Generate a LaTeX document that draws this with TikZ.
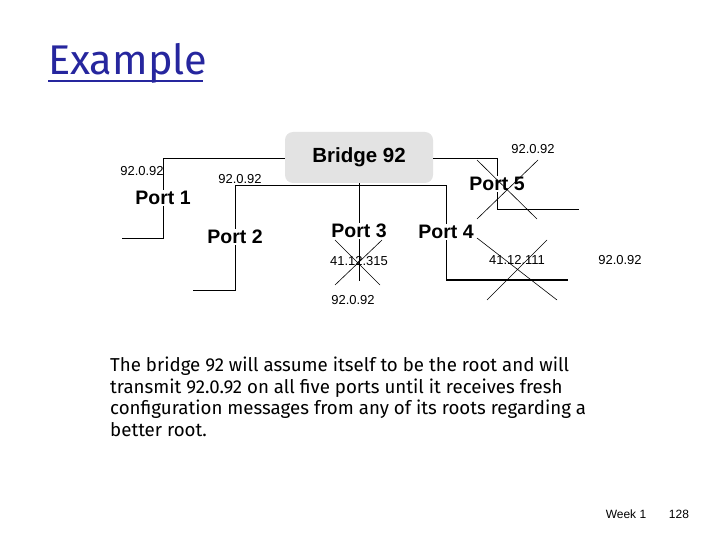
\documentclass[tikz,border=0pt]{standalone}
\usepackage{fontspec}
\setmainfont{Liberation Sans}
\newfontfamily\comicfont{Fira Sans}
\begin{document}
\begin{tikzpicture}[x=1pt,y=-1pt,
  wire/.style={line width=0.9pt,black},
  cross/.style={line width=0.6pt,black},
  portlbl/.style={font=\fontsize{19.5}{19.5}\selectfont\bfseries,fill=white,inner sep=1pt},
  addr/.style={font=\fontsize{13}{13}\selectfont,inner sep=0pt},
  bridgebox/.style={fill=black!11,rounded corners=8pt,minimum width=148pt,minimum height=51pt,font=\fontsize{20.5}{20.5}\selectfont\bfseries}]
\useasboundingbox (0,0) rectangle (720,540);
% title
\node[anchor=base west,inner sep=0pt,font=\comicfont\fontsize{41.5}{41.5}\selectfont,text=blue!55!black!85!white] (title) at (48,75) {Example};
\draw[line width=2pt,blue!55!black!85!white] (48,81) -- (203,81);
% bridge
\node[bridgebox] (br) at (359,157.5) {Bridge 92};
% coordinates
\coordinate (p1a) at (163,158);
\coordinate (p1b) at (163,238);
\coordinate (p1c) at (122,238);
\coordinate (p2a) at (235,185);
\coordinate (p2b) at (235,290);
\coordinate (p2c) at (193,290);
\coordinate (p4a) at (446,185);
\coordinate (p4b) at (446,280);
\coordinate (p4c) at (568,280);
\coordinate (p3b) at (359,281);
\coordinate (p5a) at (497,158);
\coordinate (p5b) at (497,209);
\coordinate (p5c) at (579,209);
% wires
\draw[wire] (br.west |- p1a) -- (p1a) -- (p1b) -- (p1c);
\draw[wire] (p2c) -- (p2b) -- (p2a) -- (p4a) -- (p4b);
\draw[line width=2pt] (p4b) -- (p4c);
\draw[wire] (br.south) -- (p3b);
\draw[wire] (br.east |- p5a) -- (p5a) -- (p5b) -- (p5c);
% labels
\node[portlbl] (l1) at (163,198) {Port 1};
\node[portlbl] (l2) at (235,237) {Port 2};
\node[portlbl] (l3) at (359,231) {Port 3};
\node[portlbl] (l4) at (446,232) {Port 4};
\node[portlbl] (l5) at (497,184) {Port 5};
\node[addr] (a1) at (142,171) {92.0.92};
\node[addr] (a2) at (240,179) {92.0.92};
\node[addr] (a3) at (359,261) {41.12.315};
\node[addr] (a3b) at (353,300) {92.0.92};
\node[addr] (a4) at (517,260) {41.12.111};
\node[addr] (a4b) at (620,260) {92.0.92};
\node[addr] (a5) at (533,149) {92.0.92};
% crosses
\draw[cross] (335,240) -- (380,285) (382,240) -- (335,285);
\draw[cross] (477,238) -- (557,300) (547,240) -- (487,300);
\draw[cross] (477,160) -- (537,219) (538,160) -- (477,219);
% body text
\node[anchor=north west,inner sep=0pt,align=left,font=\comicfont\fontsize{18.7}{21.5}\selectfont] (body) at (110,357)
 {The bridge 92 will assume itself to be the root and will\\
  transmit 92.0.92 on all five ports until it receives fresh\\
  configuration messages from any of its roots regarding a\\
  better root.};
% footer
\node[addr,font=\fontsize{12}{12}\selectfont] (wk) at (626,514) {Week 1};
\node[addr,font=\fontsize{12}{12}\selectfont] (pg) at (679,514) {128};
\end{tikzpicture}
\end{document}
